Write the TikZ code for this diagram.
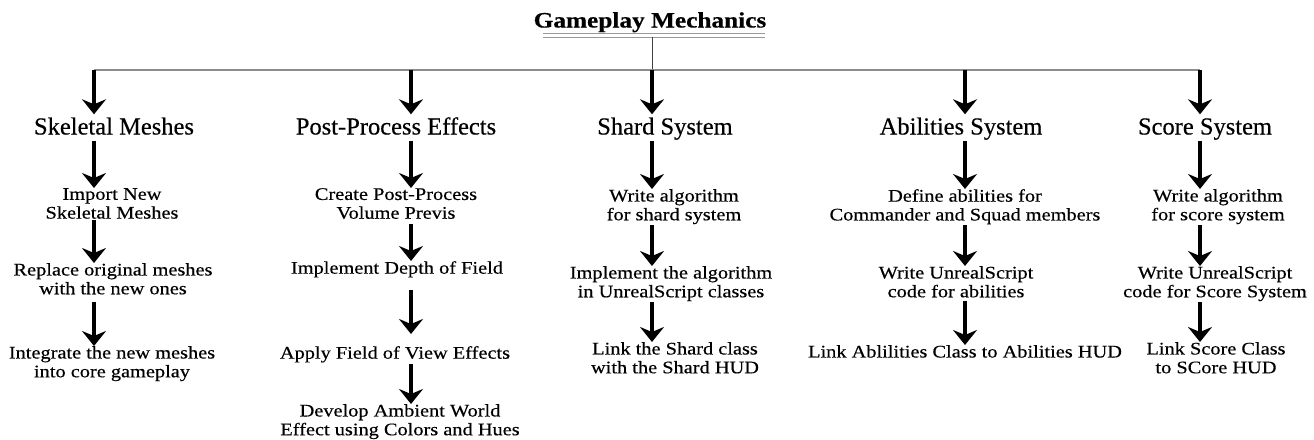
\documentclass[tikz,border=0pt]{standalone}
\usepackage{fontspec}
\setmainfont[FakeStretch=1.15,FakeBold=0.4]{Liberation Serif}
\newfontfamily\headfont[FakeBold=0.4]{Liberation Serif}
\usetikzlibrary{arrows.meta,calc}
\tikzset{
  titlebox/.style={inner sep=0pt,anchor=base,font=\fontsize{22}{24}\selectfont\bfseries},
  headbox/.style={inner sep=0pt,anchor=base,text height=17pt,text depth=5pt,font=\headfont\fontsize{24.5}{26}\selectfont},
  itembox/.style={inner sep=0pt,anchor=north,align=center,font=\fontsize{17.7}{18.8}\selectfont},
  arr/.style={line width=4.5pt,-{Stealth[length=15pt,width=24pt,inset=5pt]},shorten <=1pt},
  rule/.style={line width=1.4pt,draw=black!45},
}
\begin{document}
\begin{tikzpicture}[x=1pt,y=-1pt]
\useasboundingbox (0,0) rectangle (1314,439);
% title
\node[titlebox] (title) at (650,27.5) {Gameplay Mechanics};
\coordinate (ul1) at (543,33.5);
\coordinate (ul2) at (765,33.5);
\coordinate (ul3) at (543,37);
\coordinate (ul4) at (765,37);
\draw[line width=1.2pt,draw=black!40] (ul1) -- (ul2);
\draw[line width=1pt,draw=black!40] (ul3) -- (ul4);
% column arrow x positions on the bar
\coordinate (c1) at (94,70);
\coordinate (c2) at (411,70);
\coordinate (c3) at (652,70);
\coordinate (c4) at (965,70);
\coordinate (c5) at (1200,70);
\coordinate (tv) at (652,37);
\draw[line width=1pt,draw=black!75] (tv) -- (c3);
\draw[rule] (c1) -- (c5);
% headings
\node[headbox] (h1) at (114,134.5) {Skeletal Meshes};
\node[headbox] (h2) at (396,134.5) {Post-Process Effects};
\node[headbox] (h3) at (665,134.5) {Shard System};
\node[headbox] (h4) at (961,134.5) {Abilities System};
\node[headbox] (h5) at (1205,134.5) {Score System};
% column 1
\node[itembox] (i11) at (112,188) {Import New\\Skeletal Meshes};
\node[itembox] (i12) at (113,263) {Replace original meshes\\with the new ones};
\node[itembox] (i13) at (112,346) {Integrate the new meshes\\into core gameplay};
% column 2
\node[itembox] (i21) at (396,188) {Create Post-Process\\Volume Previs};
\node[itembox] (i22) at (397,261) {Implement Depth of Field};
\node[itembox] (i23) at (395,346) {Apply Field of View Effects};
\node[itembox] (i24) at (400,404) {Develop Ambient World\\Effect using Colors and Hues};
% column 3
\node[itembox] (i31) at (674,189) {Write algorithm\\for shard system};
\node[itembox] (i32) at (671,266) {Implement the algorithm\\in UnrealScript classes};
\node[itembox] (i33) at (675,342) {Link the Shard class\\with the Shard HUD};
% column 4
\node[itembox] (i41) at (965,189) {Define abilities for\\Commander and Squad members};
\node[itembox] (i42) at (956,266) {Write UnrealScript\\code for abilities};
\node[itembox] (i43) at (965,345) {Link Ablilities Class to Abilities HUD};
% column 5
\node[itembox] (i51) at (1218,189) {Write algorithm\\for score system};
\node[itembox] (i52) at (1215,266) {Write UnrealScript\\code for Score System};
\node[itembox] (i53) at (1216,342) {Link Score Class\\to SCore HUD};
% arrows
\foreach \c/\h in {c1/h1,c2/h2,c3/h3,c4/h4,c5/h5}
  \draw[arr,shorten <=0pt,shorten >=3pt] (\c) -- (\h.north -| \c);
\draw[arr] (h1.south -| c1) -- (i11.north -| c1);
\draw[arr] (i11.south -| c1) -- (i12.north -| c1);
\draw[arr,shorten <=7pt] (i12.south -| c1) -- (i13.north -| c1);
\draw[arr] (h2.south -| c2) -- (i21.north -| c2);
\draw[arr,shorten <=5pt] (i21.south -| c2) -- (i22.north -| c2);
\draw[arr,shorten <=12pt,shorten >=12pt] (i22.south -| c2) -- (i23.north -| c2);
\draw[arr] (i23.south -| c2) -- (i24.north -| c2);
\draw[arr] (h3.south -| c3) -- (i31.north -| c3);
\draw[arr] (i31.south -| c3) -- (i32.north -| c3);
\draw[arr] (i32.south -| c3) -- (i33.north -| c3);
\draw[arr] (h4.south -| c4) -- (i41.north -| c4);
\draw[arr] (i41.south -| c4) -- (i42.north -| c4);
\draw[arr,shorten <=3pt] (i42.south -| c4) -- (i43.north -| c4);
\draw[arr] (h5.south -| c5) -- (i51.north -| c5);
\draw[arr] (i51.south -| c5) -- (i52.north -| c5);
\draw[arr] (i52.south -| c5) -- (i53.north -| c5);
\end{tikzpicture}
\end{document}
